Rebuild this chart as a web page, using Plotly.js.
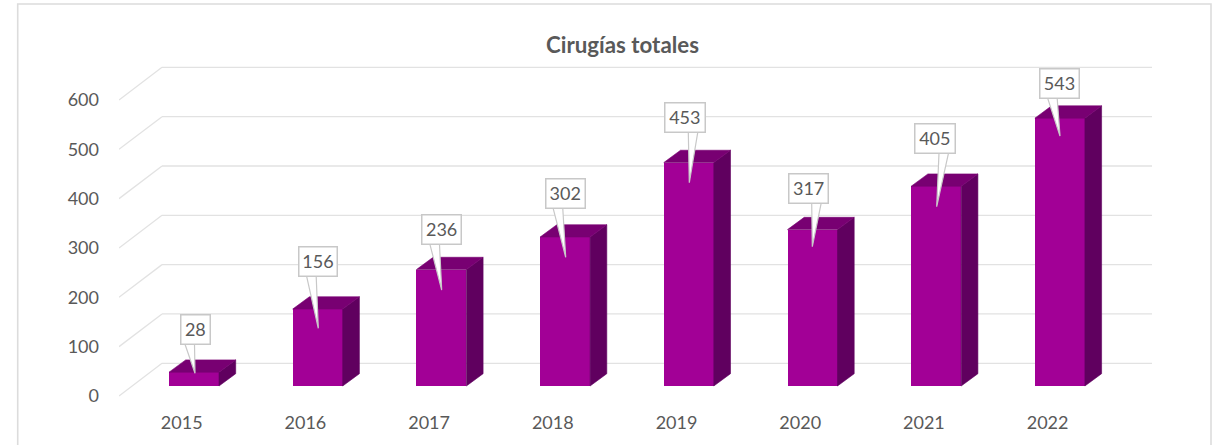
<!DOCTYPE html>
<html><head><meta charset="utf-8">
<script src="https://cdn.plot.ly/plotly-3.0.1.min.js"></script>
<style>html,body{margin:0;padding:0;background:#fff;overflow:hidden}#g{width:1220px;height:445px}</style>
</head><body><div id="g"></div>
<script>
// --- data ---
const years = ['2015','2016','2017','2018','2019','2020','2021','2022'];
const cirugias = [28,156,236,302,453,317,405,543];
const yTicks = [0,100,200,300,400,500,600];

// --- callout placement (pixels relative to bar centre / bar top) ---
const boxDx = [1.3,.5,.3,.6,-3.6,-4.2,-1,-.4];
const boxDy = [43,47.5,39.9,43.2,45.5,41.6,48.2,34.8];
const boxW = [30.7,40,41.3,40.5,41.7,41.3,41.7,41];
const tipDx = [1,.6,.3,.6,.5,-.2,.5,.1];
const tipDy = [1.1,19.3,20.4,20.3,20.2,17.1,20.5,17.9];
const wedgeLeft = [-10.3,-11.5,-11.7,-12.4,3.1,3.4,3.8,-11.8];

// --- geometry scales ---
const L=119,R=1152,T=60,B=398,W=1220,H=445;
const pxCat=123.7, pxVal=0.4933, x0px=194, y0px=386;
const xr=[(L-x0px)/pxCat,(R-x0px)/pxCat], yr=[(y0px-B)/pxVal,(y0px-T)/pxVal];
const cx=p=>p/pxCat, cy=p=>p/pxVal;
const halfBar=25/pxCat, depthX=cx(16.7), depthY=cy(12.3);
const wallX=cx(162-x0px), wallBase=cy(y0px-363.3), floorBase=cy(y0px-396);

const C={front:'#a20096',top:'#780072',side:'#60005f',grid:'#e2e2e2',text:'#595959',box:'#c8c8c8'};

function polyTrace(builder,color){
  const xs=[],ys=[];
  years.forEach((_,i)=>{
    builder(i,cirugias[i]).forEach(p=>{xs.push(p[0]);ys.push(p[1]);});
    xs.push(null);ys.push(null);
  });
  return {type:'scatter',mode:'lines',x:xs,y:ys,fill:'toself',fillcolor:color,line:{width:0.6,color:color},hoverinfo:'skip',showlegend:false};
}
const idx=years.map((_,i)=>i);
const bars={type:'bar',x:idx,y:cirugias,width:2*halfBar,marker:{color:C.front,line:{width:0}},hoverinfo:'skip',showlegend:false};
const sideFace=polyTrace((i,v)=>[[i+halfBar,0],[i+halfBar+depthX,depthY],[i+halfBar+depthX,v+depthY],[i+halfBar,v],[i+halfBar,0]],C.side);
const topFace=polyTrace((i,v)=>[[i-halfBar,v],[i+halfBar,v],[i+halfBar+depthX,v+depthY],[i-halfBar+depthX,v+depthY],[i-halfBar,v]],C.top);
const wedges=polyTrace((i,v)=>{
  const bx=i+cx(boxDx[i]), by=v+cy(boxDy[i]-15);
  return [[bx+cx(wedgeLeft[i]),by],[i+cx(tipDx[i]),v-cy(tipDy[i])],[bx+cx(wedgeLeft[i]+9.5),by]];
},'#ffffff');
wedges.line={width:1.2,color:C.box};

const gridShapes=[];
yTicks.forEach(t=>{
  const line={type:'line',layer:'below',xref:'x',yref:'y',line:{color:C.grid,width:1.3}};
  gridShapes.push(Object.assign({},line,{x0:xr[0],y0:t+floorBase,x1:wallX,y1:t+wallBase}));
  gridShapes.push(Object.assign({},line,{x0:wallX,y0:t+wallBase,x1:xr[1],y1:t+wallBase}));
});
const px=p=>(p-L)/(R-L), py=p=>(B-p)/(B-T);
gridShapes.push({type:'rect',layer:'below',xref:'paper',yref:'paper',x0:px(17.7),x1:px(1211),y0:py(460),y1:py(4),line:{color:'#dcdcdc',width:1.6},fillcolor:'rgba(0,0,0,0)'});

const annots=years.map((_,i)=>({
  xref:'x',yref:'y',x:i+cx(boxDx[i]),y:cirugias[i]+cy(boxDy[i]),
  text:String(cirugias[i]),showarrow:false,xanchor:'center',yanchor:'middle',
  width:boxW[i]-3,height:27.5,borderpad:0,borderwidth:1.5,bordercolor:C.box,bgcolor:'#ffffff',
  font:{family:'Lato, sans-serif',size:18,color:C.text}
}));

Plotly.newPlot('g',[bars,sideFace,topFace,wedges],{
  width:W,height:H,margin:{l:L,r:W-R,t:T,b:H-B,pad:0},
  paper_bgcolor:'#fff',plot_bgcolor:'rgba(0,0,0,0)',showlegend:false,
  font:{family:'Lato, sans-serif',size:18,color:C.text},
  title:{text:'<b>Cirugías totales</b>',x:622.5/W,y:1-45/H,xref:'container',yref:'container',xanchor:'center',yanchor:'middle',font:{family:'Lato, sans-serif',size:22.3,color:C.text}},
  xaxis:{range:xr,tickvals:idx.map(i=>i+cx(-12.3)),ticktext:years,showgrid:false,zeroline:false,showline:false,ticks:'',ticklabelstandoff:12,fixedrange:true,tickfont:{size:18,color:C.text}},
  yaxis:{range:yr,tickvals:yTicks,showgrid:false,zeroline:false,showline:false,ticks:'',ticklabelshift:10,ticklabelstandoff:19,fixedrange:true,tickfont:{size:18,color:C.text}},
  shapes:gridShapes,annotations:annots,bargap:0
},{displayModeBar:false,staticPlot:true});
</script></body></html>
